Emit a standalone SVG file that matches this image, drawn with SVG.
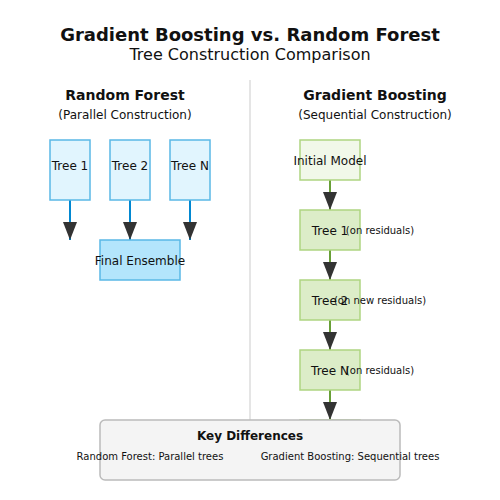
<svg xmlns="http://www.w3.org/2000/svg" width="500" height="500" viewBox="0 0 500 500">
<style>
text{font-family:"DejaVu Sans",sans-serif;fill:#111;}
.title{font-size:18px;font-weight:bold;text-anchor:middle;}
.sub{font-size:16px;text-anchor:middle;}
.head{font-size:14px;font-weight:bold;text-anchor:middle;}
.note{font-size:12px;text-anchor:middle;}
.lbl{font-size:12px;text-anchor:middle;}
.small{font-size:10px;text-anchor:middle;}
.rf{fill:#e1f5fe;stroke:#5ab8e6;stroke-width:1.5;}
.rfe{fill:#b3e5fc;stroke:#5ab8e6;stroke-width:1.5;}
.gb0{fill:#f1f8e9;stroke:#aed581;stroke-width:1.5;}
.gb{fill:#dcedc8;stroke:#aed581;stroke-width:1.5;}
.bl{stroke:#0288d1;stroke-width:2;fill:none;}
.gl{stroke:#689f38;stroke-width:2;fill:none;}
</style>
<defs>
<marker id="arr" viewBox="0 0 18 14" refX="18" refY="7" markerWidth="18" markerHeight="14" markerUnits="userSpaceOnUse" orient="auto">
<path d="M0,0 L18,7 L0,14 z" fill="#333"/>
</marker>
</defs>
<rect width="500" height="500" fill="#fff"/>
<text class="title" x="250" y="41">Gradient Boosting vs. Random Forest</text>
<text class="sub" x="250" y="60">Tree Construction Comparison</text>
<line x1="250" y1="80" x2="250" y2="420" stroke="#ddd" stroke-width="1.5"/>
<text class="head" x="125" y="100">Random Forest</text>
<text class="note" x="125" y="119">(Parallel Construction)</text>
<text class="head" x="375" y="100">Gradient Boosting</text>
<text class="note" x="375" y="119">(Sequential Construction)</text>
<g id="connectors">
<line class="bl" x1="70" y1="200" x2="70" y2="240" marker-end="url(#arr)"/>
<line class="bl" x1="130" y1="200" x2="130" y2="240" marker-end="url(#arr)"/>
<line class="bl" x1="190" y1="200" x2="190" y2="240" marker-end="url(#arr)"/>
<line class="gl" x1="330" y1="180" x2="330" y2="210" marker-end="url(#arr)"/>
<line class="gl" x1="330" y1="250" x2="330" y2="280" marker-end="url(#arr)"/>
<line class="gl" x1="330" y1="320" x2="330" y2="350" marker-end="url(#arr)"/>
<line class="gl" x1="330" y1="390" x2="330" y2="420" marker-end="url(#arr)"/>
</g>
<g id="rf-tree1"><rect class="rf" x="50" y="140" width="40" height="60"/><text class="lbl" x="70" y="170">Tree 1</text></g>
<g id="rf-tree2"><rect class="rf" x="110" y="140" width="40" height="60"/><text class="lbl" x="130" y="170">Tree 2</text></g>
<g id="rf-treeN"><rect class="rf" x="170" y="140" width="40" height="60"/><text class="lbl" x="190" y="170">Tree N</text></g>
<g id="rf-final"><rect class="rfe" x="100" y="240" width="80" height="40"/><text class="lbl" x="140" y="265">Final Ensemble</text></g>
<g id="gb-init"><rect class="gb0" x="300" y="140" width="60" height="40"/><text class="lbl" x="330" y="165">Initial Model</text></g>
<g id="gb-tree1"><rect class="gb" x="300" y="210" width="60" height="40"/><text class="lbl" x="330" y="235">Tree 1</text><text class="small" x="380" y="234">(on residuals)</text></g>
<g id="gb-tree2"><rect class="gb" x="300" y="280" width="60" height="40"/><text class="lbl" x="330" y="305">Tree 2</text><text class="small" x="380" y="304">(on new residuals)</text></g>
<g id="gb-treeN"><rect class="gb" x="300" y="350" width="60" height="40"/><text class="lbl" x="330" y="375">Tree N</text><text class="small" x="380" y="374">(on residuals)</text></g>
<g id="gb-final"><rect class="gb" x="300" y="420" width="60" height="40"/></g>
<g id="key">
<rect x="100" y="420" width="300" height="60" rx="5" fill="#f4f4f4" stroke="#bbb" stroke-width="1.5"/>
<text x="250" y="440" style="font-size:12px;font-weight:bold;text-anchor:middle;">Key Differences</text>
<text class="small" x="150" y="460">Random Forest: Parallel trees</text>
<text class="small" x="350" y="460">Gradient Boosting: Sequential trees</text>
</g>
</svg>
